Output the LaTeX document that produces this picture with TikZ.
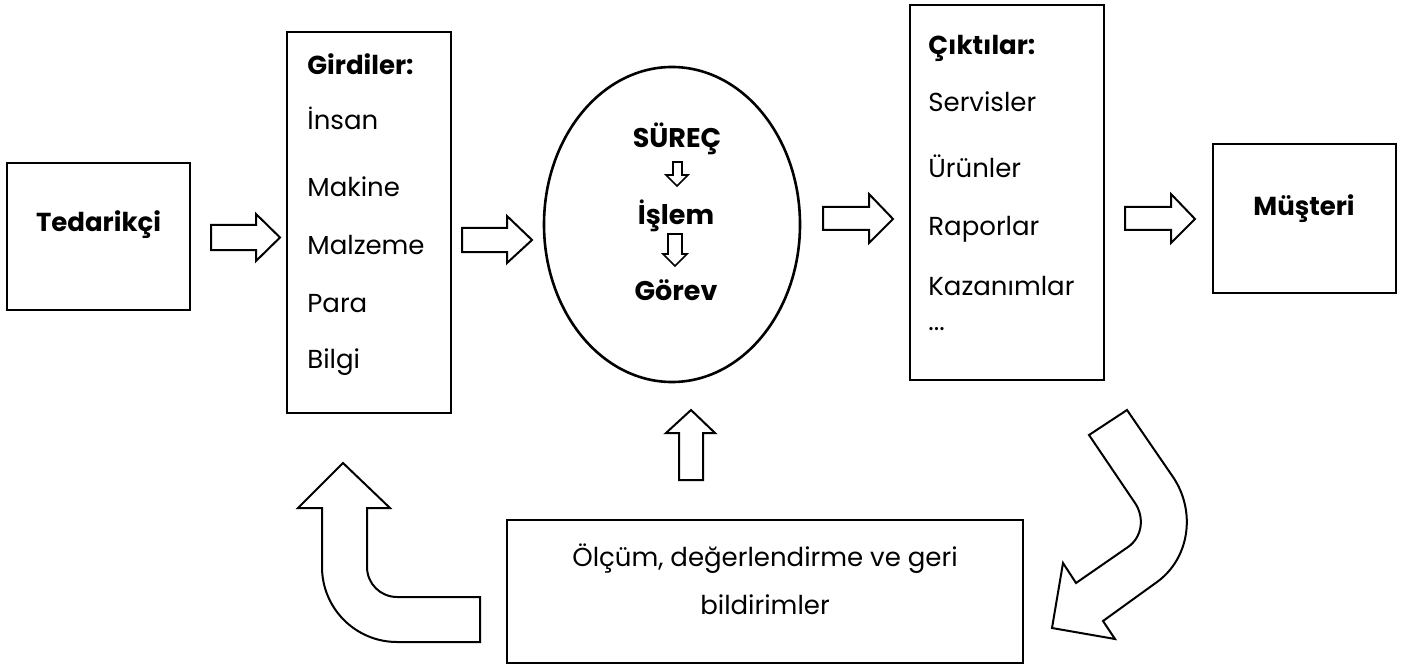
\documentclass[tikz,border=0pt]{standalone}
\usepackage{fontspec}
\setmainfont{Poppins}
\usetikzlibrary{shapes.geometric}
\begin{document}
\begin{tikzpicture}[x=0.5pt,y=-0.5pt,
  box/.style={draw, line width=1.3pt, rectangle, inner sep=0pt},
  barrow/.style={draw, line width=1pt, fill=white, line join=miter},
  sarrow/.style={draw, line width=0.8pt, fill=white, line join=miter},
  txt/.style={inner sep=0pt, anchor=base west, font=\fontsize{13}{15}\selectfont},
  ctxt/.style={inner sep=0pt, anchor=base, font=\fontsize{13}{15}\selectfont},
  btxt/.style={inner sep=0pt, anchor=base, font=\fontsize{13}{15}\selectfont\bfseries},
  etxt/.style={inner sep=0pt, anchor=base, font=\fontsize{13.5}{15}\selectfont\bfseries},
  bwtxt/.style={inner sep=0pt, anchor=base west, font=\fontsize{13}{15}\selectfont\bfseries}]
\useasboundingbox (0,0) rectangle (1417,668);

% boxes
\node[box, minimum width=91.5pt, minimum height=73.5pt] (tedbox) at (98.5,236.5) {};
\node[btxt] (ted) at (98.5,232) {Tedarikçi};

\node[box, minimum width=82pt, minimum height=190.5pt] (girbox) at (369,222.5) {};
\node[bwtxt] (gir) at (307,75) {Girdiler:};
\node[txt] (g1) at (307,130) {İnsan};
\node[txt] (g2) at (307,197) {Makine};
\node[txt] (g3) at (307,255) {Malzeme};
\node[txt] (g4) at (307,312) {Para};
\node[txt] (g5) at (307,368) {Bilgi};

\node[draw, ellipse, line width=1.3pt, inner sep=0pt, minimum width=128pt, minimum height=157.5pt] (surec) at (672,224.5) {};
\node[etxt] (s1) at (677,148) {SÜREÇ};
\node[etxt] (s2) at (676,225) {İşlem};
\node[etxt] (s3) at (676,300) {Görev};

\node[box, minimum width=97pt, minimum height=187.5pt] (cikbox) at (1007,192.5) {};
\node[bwtxt] (cik) at (928,55) {Çıktılar:};
\node[txt] (c1) at (928,112) {Servisler};
\node[txt] (c2) at (928,177) {Ürünler};
\node[txt] (c3) at (928,235) {Raporlar};
\node[txt] (c4) at (928,295) {Kazanımlar};
\node[txt] (c5) at (928,330) {...};

\node[box, minimum width=91.5pt, minimum height=74.5pt] (musbox) at (1304.5,218.5) {};
\node[btxt] (mus) at (1304,216) {Müşteri};

\node[box, minimum width=258pt, minimum height=71.5pt] (olcbox) at (765,591.5) {};
\node[ctxt] (o1) at (765,566) {Ölçüm, değerlendirme ve geri};
\node[ctxt] (o2) at (765,614) {bildirimler};

% block arrows
\draw[barrow] (211,225) -- (256,225) -- (256,214) -- (280,237.5) -- (256,261) -- (256,250) -- (211,250) -- cycle;
\draw[barrow] (462,228) -- (507,228) -- (507,216) -- (532,240) -- (507,263) -- (507,252) -- (462,252) -- cycle;
\draw[barrow] (823,207) -- (869,207) -- (869,194) -- (893,219) -- (869,243) -- (869,230) -- (823,230) -- cycle;
\draw[barrow] (1125,207) -- (1171,207) -- (1171,194) -- (1195,219) -- (1171,243) -- (1171,230) -- (1125,230) -- cycle;
\draw[barrow] (679,480) -- (679,433) -- (666,433) -- (691,410) -- (715,433) -- (703,433) -- (703,480) -- cycle;

% small arrows inside ellipse
\draw[sarrow] (673,162) -- (682,162) -- (682,175) -- (688,175) -- (677,186) -- (666,175) -- (673,175) -- cycle;
\draw[sarrow] (668,234) -- (682,234) -- (682,254) -- (687,254) -- (675,266) -- (663,254) -- (668,254) -- cycle;

% left bent arrow
\draw[barrow] (480,597) -- (397,597) .. controls (380.4,597) and (367,583.6) .. (367,567)
  -- (367,508) -- (390,508) -- (343,463) -- (298,508) -- (322,508) -- (322,567)
  .. controls (322,608.4) and (355.6,642) .. (397,642) -- (480,642) -- cycle;

% right bent arrow
\draw[barrow] (1089,435) -- (1127,410) -- (1173,477)
  .. controls (1196,511) and (1190,558) .. (1157,582)
  -- (1103,621) -- (1115,639) -- (1052,628) -- (1063,563) -- (1076,583) -- (1128,547)
  .. controls (1142.3,537.1) and (1144.7,517.4) .. (1135,503) -- cycle;
\end{tikzpicture}
\end{document}
